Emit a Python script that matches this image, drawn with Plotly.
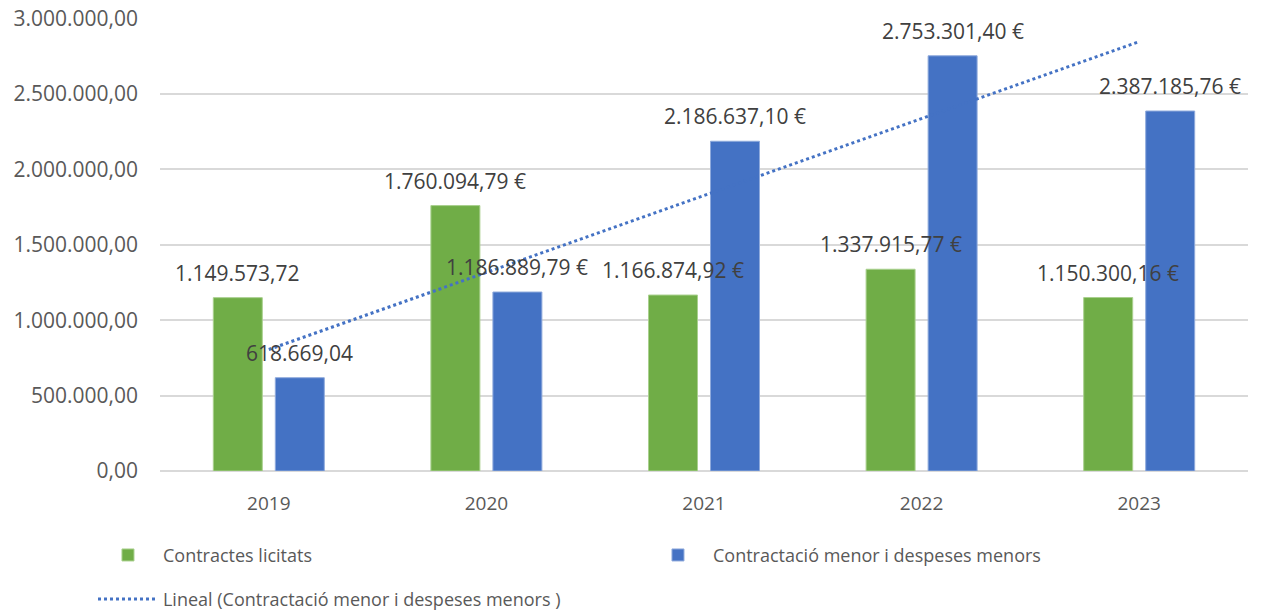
import numpy as np
import plotly.graph_objects as go

years = ["2019", "2020", "2021", "2022", "2023"]
licitats = [1149573.72, 1760094.79, 1166874.92, 1337915.77, 1150300.16]
menors = [618669.04, 1186889.79, 2186637.10, 2753301.40, 2387185.76]
licitats_labels = ["1.149.573,72", "1.760.094,79 €", "1.166.874,92 €", "1.337.915,77 €", "1.150.300,16 €"]
menors_labels = ["618.669,04", "1.186.889,79 €", "2.186.637,10 €", "2.753.301,40 €", "2.387.185,76 €"]
y_ticks = [0, 500000, 1000000, 1500000, 2000000, 2500000, 3000000]

GREEN = "#70AD47"
BLUE = "#4472C4"
FONT = "Open Sans"

# linear trendline of the second series (Excel-style "Lineal")
xi = np.arange(1, len(menors) + 1)
slope, intercept = np.polyfit(xi, menors, 1)
trend = slope * xi + intercept

fig = go.Figure()
fig.add_trace(go.Bar(x=years, y=licitats, name="Contractes licitats",
                     marker=dict(color=GREEN, line=dict(color="#A9D08E", width=1))))
fig.add_trace(go.Bar(x=years, y=menors, name="Contractació menor i despeses menors",
                     marker=dict(color=BLUE, line=dict(color="#8FAADC", width=1))))
fig.add_trace(go.Scatter(x=years, y=trend, mode="lines", legend="legend2",
                         name="Lineal (Contractació menor i despeses menors )",
                         line=dict(color=BLUE, width=3, dash="dot")))

annotations = []
for i, (v, t) in enumerate(zip(licitats, licitats_labels)):
    annotations.append(dict(x=i, y=v, text=t, showarrow=False, xshift=-31, yshift=9,
                            yanchor="bottom", xanchor="center",
                            font=dict(family=FONT, size=21, color="#404040")))
for i, (v, t) in enumerate(zip(menors, menors_labels)):
    annotations.append(dict(x=i, y=v, text=t, showarrow=False, xshift=31, yshift=9,
                            yanchor="bottom", xanchor="center",
                            font=dict(family=FONT, size=21, color="#404040")))

legend_common = dict(orientation="h", xanchor="left", yanchor="middle",
                     entrywidth=475, entrywidthmode="pixels", itemwidth=60,
                     font=dict(family=FONT, size=18, color="#595959"),
                     traceorder="normal", bgcolor="rgba(0,0,0,0)")

fig.update_layout(
    width=1264, height=614,
    margin=dict(l=152, r=24, t=10, b=151, autoexpand=False),
    paper_bgcolor="white", plot_bgcolor="white",
    separators=",.",
    barmode="group", bargap=0.43, bargroupgap=0.21,
    font=dict(family=FONT, color="#595959"),
    showlegend=True,
    legend=dict(x=-0.0616, y=-0.186, **legend_common),
    legend2=dict(x=-0.0616, y=-0.283, **legend_common),
    annotations=annotations,
)
fig.update_xaxes(type="category", range=[-0.5, 4.5], showgrid=False, showline=False, ticks="",
                 tickfont=dict(family=FONT, size=19, color="#595959"),
                 ticklabelstandoff=19)
fig.update_yaxes(range=[0, 3004000], tickvals=y_ticks, tickformat=",.2f",
                 showgrid=True, gridcolor="#D9D9D9", gridwidth=1.5,
                 zeroline=True, zerolinecolor="#D9D9D9", zerolinewidth=1.5,
                 showline=False, ticks="", ticklabeloverflow="allow",
                 tickfont=dict(family=FONT, size=21, color="#595959"),
                 ticklabelstandoff=21)

fig.write_html("out.html")
